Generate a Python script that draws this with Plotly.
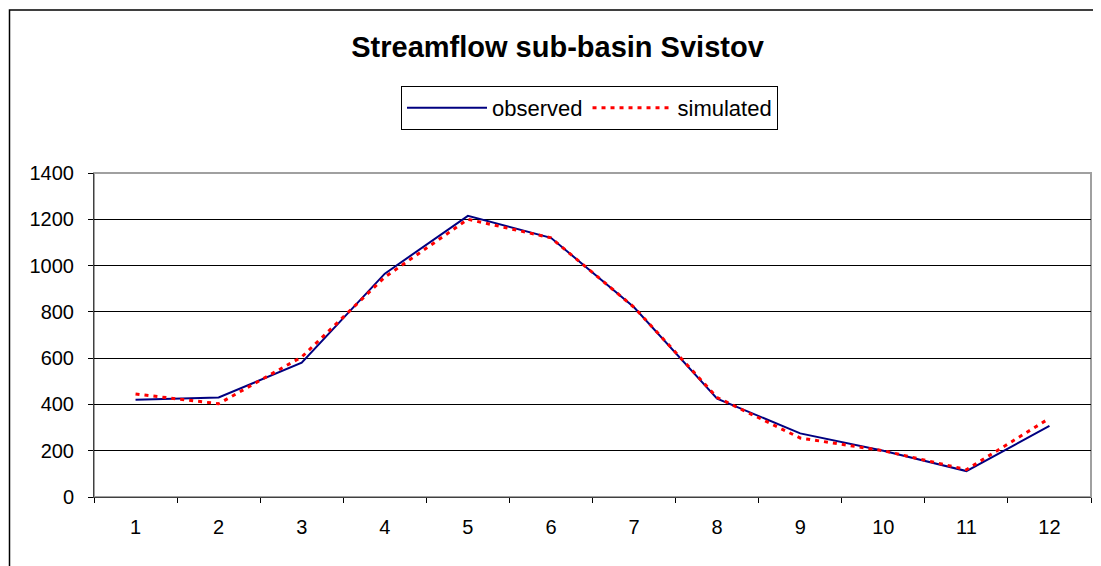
import plotly.graph_objects as go

months = [str(i) for i in range(1, 13)]
observed = [420, 430, 580, 965, 1215, 1120, 820, 425, 275, 200, 112, 307]
simulated = [445, 403, 605, 950, 1200, 1120, 820, 430, 255, 200, 118, 340]
y_ticks = [0, 200, 400, 600, 800, 1000, 1200, 1400]

# page body has an 8px margin: work in screen coords, shift by OFF
OFF = 8
W, H = 1101 - OFF, 566 - OFF
PL, PR, PT, PB = 94, 1091, 173, 497  # plot area in screen coords
L, R, T, B = PL - OFF, W - (PR - OFF), PT - OFF, H - (PB - OFF)
pw = W - L - R
ph = H - T - B

def px(x):
    return (x - OFF - L) / pw

def py(y):
    return (H - B - (y - OFF)) / ph

FONT = "Liberation Sans, Arial, sans-serif"

fig = go.Figure()
fig.add_trace(go.Scatter(x=months, y=observed, name="observed", mode="lines",
                         line=dict(color="#000080", width=2)))
fig.add_trace(go.Scatter(x=months, y=simulated, name="simulated", mode="lines",
                         line=dict(color="#ff0000", width=3, dash="4px,5px")))

fig.update_layout(
    width=W, height=H,
    margin=dict(l=L, r=R, t=T, b=B),
    paper_bgcolor="white", plot_bgcolor="white",
    font=dict(family=FONT, size=20, color="black"),
    title=dict(text="<b>Streamflow sub-basin Svistov</b>", font=dict(size=29, family=FONT),
               x=px(557.5), xref="paper", xanchor="center",
               y=1 - (46.5 - OFF) / H, yref="container", yanchor="middle"),
    legend=dict(orientation="h", x=px(401), y=py(86), xanchor="left", yanchor="top",
                bordercolor="black", borderwidth=1, font=dict(size=22, family=FONT),
                itemwidth=80, bgcolor="white"),
    showlegend=True,
)
fig.update_xaxes(type="category", tickson="boundaries", ticks="outside", ticklen=5,
                 tickcolor="black", showgrid=False, showline=True, linecolor="#404040",
                 linewidth=1, ticklabelstandoff=12, range=[-0.5, 11.5])
fig.update_yaxes(range=[0, 1400], tickvals=y_ticks, ticks="outside", ticklen=5,
                 tickcolor="black", showgrid=True, gridcolor="black", gridwidth=1,
                 showline=True, linecolor="#404040", linewidth=1, zeroline=False,
                 ticklabelstandoff=10)
# plot area border (top/right grey)
fig.add_shape(type="rect", xref="paper", yref="paper", x0=0, x1=1, y0=0, y1=1,
              line=dict(color="#a0a0a0", width=2), layer="below")
# outer chart frame
fig.add_shape(type="rect", xref="paper", yref="paper", x0=px(9.5), x1=px(1120),
              y0=py(600), y1=py(10), line=dict(color="black", width=1.5))

fig.write_html("out.html")
